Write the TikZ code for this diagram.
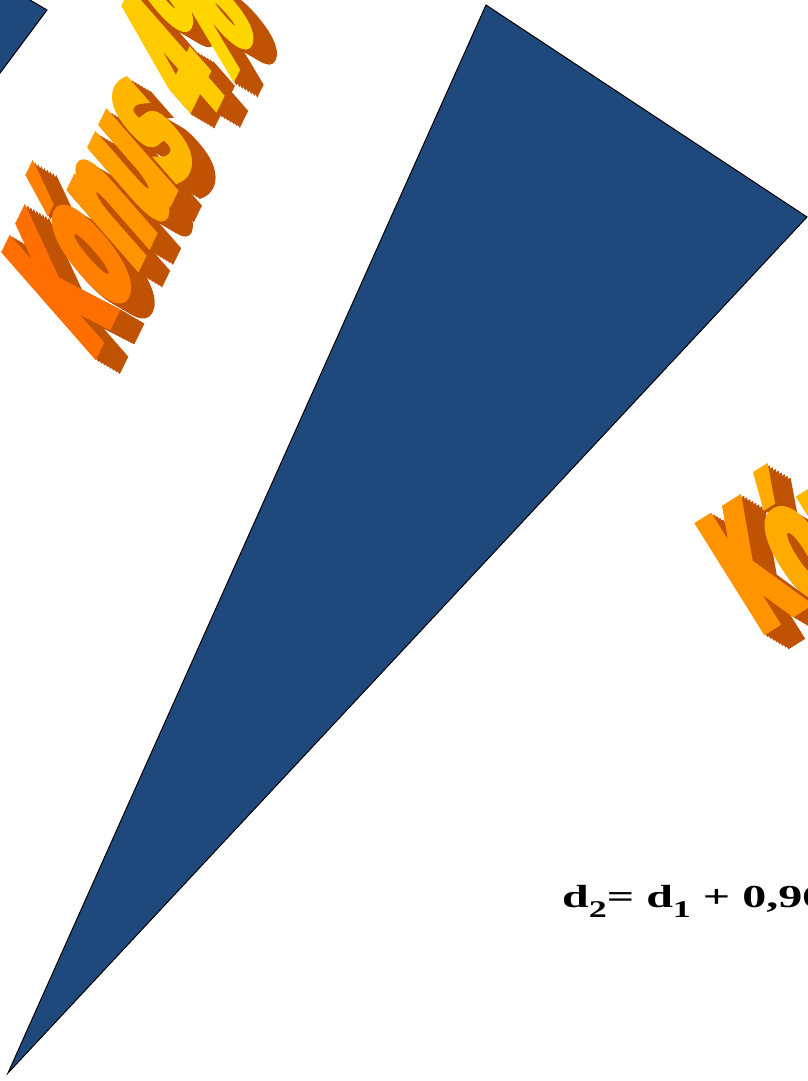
\documentclass[tikz,border=0pt]{standalone}
\usepackage{fontspec}
\setmainfont{Liberation Serif}
\newfontfamily\formulafont[FakeStretch=1.5]{Liberation Serif}
\newfontfamily\artfont[FakeStretch=0.39,FakeBold=4]{DejaVu Sans}
\newfontfamily\artwidefont[FakeStretch=0.40,FakeBold=4]{DejaVu Sans}
\definecolor{conecol}{RGB}{31,73,125}
\definecolor{artface}{RGB}{255,214,0}
\definecolor{artdeep}{RGB}{255,66,0}
\definecolor{artside}{RGB}{192,82,4}
\newcommand\artshade[2]{\textcolor{artface!#1!artdeep}{#2}}

\begin{document}
\begin{tikzpicture}[x=1pt, y=-1pt,
  artletter/.style={inner sep=0pt, anchor=base west,
                    font=\artfont\bfseries\fontsize{172}{180}\selectfont},
  artwide/.style={inner sep=0pt, anchor=base west,
                  font=\artwidefont\bfseries\fontsize{172}{180}\selectfont}
]
  \useasboundingbox (0,0) rectangle (808,1081);
  \clip (0,0) rectangle (808,1081);

  % cone pieces
  \filldraw[fill=conecol, draw=black, line width=1pt]
    (-50,-47) -- (47,10) -- (-20,100) -- cycle;
  \filldraw[fill=conecol, draw=black, line width=1pt]
    (486,5) -- (807,217) -- (8,1073) -- cycle;

  % word art, left
  \foreach \k in {8,...,1}
    \node[artletter, rotate=64, xslant=0.42, text=artside]
      at (92+3*\k, 360+1.75*\k) {Kónus 4\%};
  \node[artletter, rotate=64, xslant=0.42] (konusleft) at (92,360)
    {\artshade{30}{K}\artshade{42}{ó}\artshade{55}{n}\artshade{65}{u}%
     \artshade{78}{s} \artshade{92}{4}\artshade{100}{\%}};

  % word art, right
  \foreach \k in {8,...,1}
    \node[artwide, rotate=32, text=artside]
      at (760+3*\k, 634+1.75*\k) {Kónus};
  \node[artwide, rotate=32] (konusright) at (760,634)
    {\artshade{55}{K}\artshade{70}{ó}\artshade{80}{n}\artshade{90}{u}%
     \artshade{100}{s}};

  % formula
  \node[inner sep=0pt, anchor=base west,
        font=\formulafont\bfseries\fontsize{32}{38}\selectfont] (formula)
    at (562,907)
    {d\raisebox{-10pt}{\fontsize{24}{24}\selectfont 2}= d\raisebox{-10pt}{\fontsize{24}{24}\selectfont 1} + 0,96};
\end{tikzpicture}
\end{document}
